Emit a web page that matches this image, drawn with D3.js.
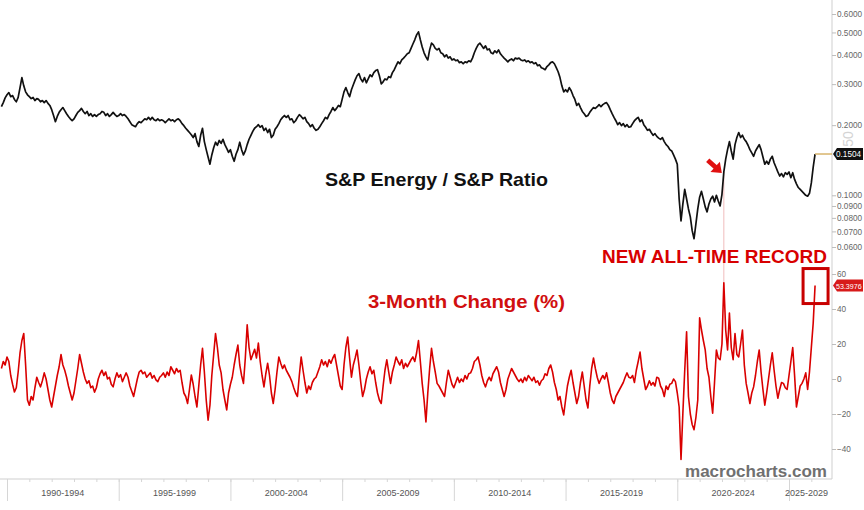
<!DOCTYPE html>
<html>
<head>
<meta charset="utf-8">
<script src="https://cdn.jsdelivr.net/npm/d3@7"></script>
<style>
  body { margin: 0; background: #fff; }
  svg { display: block; font-family: "Liberation Sans", Arial, sans-serif; }
</style>
</head>
<body>
<div id="chart"></div>
<script>
// Monthly readings, first point is Oct 1989
var firstMonth = 1989 + 9 / 12;

// S&P Energy / S&P ratio (log scale panel)
var ratio = [
  0.240, 0.250, 0.262,
  0.270, 0.276, 0.265, 0.268, 0.258, 0.252, 0.263, 0.290, 0.320, 0.295, 0.278, 0.270,
  0.265, 0.260, 0.263, 0.255, 0.260, 0.258, 0.252, 0.255, 0.250, 0.255, 0.248, 0.243,
  0.233, 0.220, 0.207, 0.218, 0.227, 0.233, 0.238, 0.231, 0.224, 0.218, 0.213, 0.209,
  0.213, 0.220, 0.227, 0.231, 0.236, 0.229, 0.224, 0.229, 0.220, 0.224, 0.218, 0.222,
  0.218, 0.222, 0.224, 0.229, 0.227, 0.220, 0.224, 0.218, 0.222, 0.227, 0.222, 0.218,
  0.220, 0.224, 0.220, 0.222, 0.218, 0.213, 0.207, 0.201, 0.199, 0.197, 0.203, 0.207,
  0.205, 0.209, 0.213, 0.211, 0.216, 0.211, 0.216, 0.211, 0.209, 0.213, 0.209, 0.211,
  0.209, 0.205, 0.209, 0.213, 0.209, 0.211, 0.207, 0.211, 0.213, 0.209, 0.203, 0.199,
  0.194, 0.190, 0.186, 0.182, 0.177, 0.184, 0.170, 0.162, 0.181, 0.194, 0.170, 0.157,
  0.146, 0.136, 0.149, 0.160, 0.169, 0.164, 0.172, 0.167, 0.174, 0.165, 0.159, 0.153,
  0.157, 0.147, 0.140, 0.150, 0.157, 0.169, 0.157, 0.149, 0.155, 0.165, 0.174, 0.181,
  0.188, 0.194, 0.197, 0.201, 0.196, 0.199, 0.190, 0.194, 0.186, 0.192, 0.177, 0.181,
  0.192, 0.197, 0.203, 0.211, 0.216, 0.220, 0.216, 0.220, 0.211, 0.213, 0.205, 0.209,
  0.216, 0.222, 0.218, 0.213, 0.216, 0.207, 0.203, 0.197, 0.201, 0.194, 0.190, 0.192,
  0.197, 0.203, 0.209, 0.216, 0.213, 0.222, 0.229, 0.238, 0.231, 0.236, 0.243, 0.240,
  0.258, 0.278, 0.290, 0.276, 0.265, 0.284, 0.298, 0.313, 0.326, 0.333, 0.316, 0.307,
  0.320, 0.304, 0.316, 0.329, 0.323, 0.336, 0.343, 0.346, 0.326, 0.301, 0.307, 0.316,
  0.313, 0.323, 0.320, 0.336, 0.346, 0.360, 0.374, 0.367, 0.381, 0.388, 0.396, 0.405,
  0.409, 0.427, 0.446, 0.465, 0.488, 0.503, 0.465, 0.433, 0.409, 0.393, 0.381, 0.421,
  0.450, 0.442, 0.427, 0.421, 0.427, 0.409, 0.405, 0.393, 0.401, 0.388, 0.393, 0.381,
  0.385, 0.378, 0.381, 0.371, 0.374, 0.367, 0.374, 0.371, 0.378, 0.374, 0.388, 0.409,
  0.427, 0.442, 0.450, 0.438, 0.427, 0.438, 0.421, 0.425, 0.409, 0.405, 0.417, 0.409,
  0.421, 0.405, 0.396, 0.388, 0.381, 0.374, 0.381, 0.385, 0.378, 0.388, 0.385, 0.388,
  0.381, 0.378, 0.381, 0.374, 0.378, 0.371, 0.374, 0.367, 0.371, 0.360, 0.363, 0.353,
  0.350, 0.346, 0.357, 0.363, 0.371, 0.374, 0.367, 0.353, 0.339, 0.320, 0.295, 0.278,
  0.284, 0.278, 0.290, 0.281, 0.268, 0.258, 0.243, 0.248, 0.238, 0.229, 0.224, 0.218,
  0.220, 0.227, 0.233, 0.238, 0.236, 0.240, 0.245, 0.240, 0.245, 0.248, 0.250, 0.243,
  0.233, 0.224, 0.216, 0.209, 0.201, 0.205, 0.199, 0.203, 0.197, 0.201, 0.196, 0.197,
  0.203, 0.209, 0.213, 0.216, 0.207, 0.211, 0.201, 0.196, 0.190, 0.192, 0.186, 0.181,
  0.184, 0.179, 0.176, 0.174, 0.177, 0.170, 0.165, 0.162, 0.157, 0.155, 0.149, 0.143,
  0.136, 0.0964, 0.0777, 0.0918, 0.106, 0.0964, 0.0874, 0.0808, 0.0705, 0.0651, 0.0754, 0.0874,
  0.0982, 0.104, 0.0964, 0.0892, 0.0849, 0.0918, 0.0964, 0.0992, 0.0936, 0.100, 0.0945, 0.0900,
  0.101, 0.126, 0.143, 0.157, 0.170, 0.155, 0.143, 0.165, 0.177, 0.186, 0.177, 0.181,
  0.174, 0.170, 0.164, 0.157, 0.152, 0.147, 0.155, 0.160, 0.165, 0.157, 0.146, 0.136,
  0.140, 0.136, 0.143, 0.147, 0.138, 0.132, 0.126, 0.121, 0.124, 0.120, 0.125, 0.123,
  0.126, 0.119, 0.125, 0.117, 0.112, 0.108, 0.106, 0.104, 0.102, 0.100, 0.0991, 0.102,
  0.113, 0.132, 0.1504
];

// 3-month change of the ratio, in percent
var change3m = [
  6, 10, 8,
  12.6, 10, 2, -3, -7.4, -5, 4, 15, 22, 26, 8, -12,
  -15, -10, -12, -5, 1, -2, -4.5, -1, 3.5, 0, -6, -12,
  -16, -10, -4, 2, 7, 14, 8, 5, 1, -4, -8, -12,
  -8, -1, 6, 14, 9, 4, 0, -2.5, -1, -5, -4, -7.5,
  -5, 0, 3, 5, 2, 4, 0, 1, -3, -4.5, 0, 3.5,
  1, 2.5, -1.5, 1, 3.5, 1, -4, -7, -10, -5, 0, 4,
  5, 3, 4, 1, 2.3, 3.5, 0.5, 2, -0.5, -1.5, 1, 2,
  3.5, 1, 4, 2, 7, 5, 3, 6, 4, 5, -2, -8,
  -10, -14, -6, 2.3, -3, -10, -16, -4, 8, 17.5, 4, -12,
  -23.5, -15, 2, 14, 26, 18, 8, 3.5, -6, -12, -17.7, -8,
  -3, 1, 8, 14, 19.4, 8, 2, -2.5, 12, 31, 18, 11,
  14, 17, 12, 20.5, 10, 2, -4.5, 3, 9, 2, -8, -14,
  -6, 4, 12.6, 9, 6, 8, 5, 3, 1, -1.5, -5, -8,
  -10, 2, 12.6, 5, -2, -8, -4, -6, -2, 0, 1, 4,
  7, 11, 8, 10, 7, 11, 9, 12, 14, 8, 2, -4,
  -6, 8, 18, 24, 12, 1, 8, 12, 16.6, 8, -2, -10,
  -6, 0, 4, 7, 3, 5, -2, -8, -12, -14, -4, 5,
  11, 4, -2.5, 4, 8, 12.6, 10, 8, 11, 6, 9, 7,
  9, 11, 12.6, 10, 15, 22, 10, -2.5, -12, -24.5, -8, 6,
  17.5, 10, 4, -2.5, -4, -6, -8, -10, -2, 5, 1, -3,
  -5, -2, 1, -2, 0, -1.5, 2, 0, 3, 3.5, 6, 10,
  11, 12.6, 8, 2, -2, -4.5, -1, 1, -1, 3, 5, 7,
  4, -2, -6, -10, -6, 0, 3, 6, 4, 2, 0, -1.5,
  0, -2, 1, -1, 2, 0.5, -1, 1, -2, -1, -3.5, -1,
  0, 3, 2, 6, 8, 4, -2, -6, -12, -10, -16, -20.5,
  -12, -4, 1, 5, -2, -8, -14, -10, -2, 4, -4, -12,
  -16.6, -4, 6, 12, 6, 1, -2.5, 0, 2, 0, 3.5, -2,
  -8, -12, -14, -10, -8, -6, -4, -2, 1, 3.5, 1, 0.5,
  2, -2, 5, 10, 15.4, 6, 0, -6, -4, -1, -3.5, -2,
  -4, 1, 0.5, -4, -6, -10, -4, -6, -3, -2.5, 0, -1.5,
  -8, -16, -46, -19.5, 5, 27, -10, -20, -26, -29, -22, -12,
  35, 28, 22, 16.6, 6, 1, -10, -19.5, -2, 16.6, 12, 11,
  20, 55, 28, 16.6, 37.7, 18, 11, 26, 14, 12.6, 20, 28,
  8, -2.5, -8, -14, -8, -4.5, 2, 10, 16.6, 4, -6, -15,
  -8, 0, 8, 15, 5, -4, -11, -6, -2, -2.5, -5, -6,
  2, 10, 18, 2, -16, -10, -4, -2.5, 0, 3.5, -6, 4,
  18, 32, 53.3976
];

var periodStarts = [1990, 1995, 2000, 2005, 2010, 2015, 2020, 2025];
var periodLabels = ["1990-1994", "1995-1999", "2000-2004", "2005-2009",
  "2010-2014", "2015-2019", "2020-2024", "2025-2029"];
var ratioTicks = [0.06, 0.07, 0.08, 0.09, 0.1, 0.2, 0.3, 0.4, 0.5, 0.6];
var changeTicks = [-40, -20, 0, 20, 40, 60];
var recordMonth = 388; // Feb 2022 spike marked by the arrow / crosshair

//Establishing SVG size and the two axis lines
var svgWidth = 864;
var svgHeight = 510;
var axisRightX = 832;
var axisBottomY = 479;

var dates = ratio.map(function(d, i) { return firstMonth + i / 12; });

var svg = d3.select("#chart").append("svg")
  .attr("width", svgWidth)
  .attr("height", svgHeight);

// Scales
var x = d3.scaleLinear().domain([1990, 2025]).range([7, 789]);
var yTop = d3.scaleLog().domain([0.06, 0.6]).range([247, 14]);
var yBot = d3.scaleLinear().domain([-40, 60]).range([449, 274]);

// Bottom time axis: yearly minor ticks, 5-year separators, centred period labels
svg.append("line")
  .attr("x1", 0).attr("x2", axisRightX)
  .attr("y1", axisBottomY).attr("y2", axisBottomY)
  .attr("stroke", "#cfcfcf");

var minorAxis = svg.append("g")
  .attr("transform", `translate(0, ${axisBottomY})`)
  .call(d3.axisBottom(x).tickValues(d3.range(1990, 2027)).tickSize(3).tickFormat(""));
var majorAxis = svg.append("g")
  .attr("transform", `translate(0, ${axisBottomY})`)
  .call(d3.axisBottom(x).tickValues(periodStarts).tickSize(22).tickFormat(""));
[minorAxis, majorAxis].forEach(function(g) {
  g.select(".domain").remove();
  g.selectAll("line").attr("stroke", "#d6d6d6");
});

svg.append("g").selectAll("text")
  .data(periodStarts)
  .enter()
  .append("text")
  .attr("x", function(d) { return (x(d) + Math.min(x(d + 5), axisRightX)) / 2 - (d === 2025 ? 4 : 0); })
  .attr("y", 496)
  .attr("text-anchor", "middle")
  .attr("font-size", 9)
  .attr("fill", "#555")
  .text(function(d, i) { return periodLabels[i]; });

// Right axis line
svg.append("line")
  .attr("x1", axisRightX).attr("x2", axisRightX)
  .attr("y1", 0).attr("y2", axisBottomY)
  .attr("stroke", "#cfcfcf");

var ratioAxis = svg.append("g")
  .attr("transform", `translate(${axisRightX}, 0)`)
  .call(d3.axisRight(yTop).tickValues(ratioTicks).tickFormat(d3.format(".4f")).tickSize(4));
var changeAxis = svg.append("g")
  .attr("transform", `translate(${axisRightX}, 0)`)
  .call(d3.axisRight(yBot).tickValues(changeTicks).tickFormat(d3.format("d")).tickSize(4));
[ratioAxis, changeAxis].forEach(function(g) {
  g.select(".domain").remove();
  g.selectAll("line").attr("stroke", "#bdbdbd");
  g.selectAll("text")
    .attr("font-family", "Liberation Sans, Arial, sans-serif")
    .attr("font-size", 8.2)
    .attr("fill", "#666")
    .attr("x", 5);
});

// faint rotated mark next to the right axis
svg.append("text")
  .attr("transform", "translate(853, 139) rotate(-90)")
  .attr("text-anchor", "middle")
  .attr("font-size", 14)
  .attr("fill", "#d4d4d4")
  .text("50");

// crosshair connecting the two panels at the record month
svg.append("line")
  .attr("x1", x(dates[recordMonth])).attr("x2", x(dates[recordMonth]))
  .attr("y1", yTop(ratio[recordMonth]))
  .attr("y2", yBot(change3m[recordMonth]) + 4)
  .attr("stroke", "#f0bcbc")
  .attr("stroke-width", 1);

// Ratio line
var ratioLine = d3.line()
  .x(function(d, i) { return x(dates[i]); })
  .y(function(d) { return yTop(d); });

svg.append("path")
  .datum(ratio)
  .attr("d", ratioLine)
  .attr("fill", "none")
  .attr("stroke", "#111")
  .attr("stroke-width", 1.7)
  .attr("stroke-linejoin", "round");

// 3-month change line
var changeLine = d3.line()
  .x(function(d, i) { return x(dates[i]); })
  .y(function(d) { return yBot(d); });

svg.append("path")
  .datum(change3m)
  .attr("d", changeLine)
  .attr("fill", "none")
  .attr("stroke", "#d90000")
  .attr("stroke-width", 1.6)
  .attr("stroke-linejoin", "round");

var last = ratio.length - 1;
var lastX = x(dates[last]);
var lastRatioY = yTop(ratio[last]);
var lastChangeY = yBot(change3m[last]);

// gold leader to the last-value tag
svg.append("line")
  .attr("x1", lastX).attr("x2", axisRightX)
  .attr("y1", lastRatioY).attr("y2", lastRatioY)
  .attr("stroke", "#d8b46c")
  .attr("stroke-width", 1.5);

// last-value tags on the right axis
function valueTag(yPos, fill, label) {
  var h = 6;
  svg.append("path")
    .attr("d", `M${axisRightX + 1},${yPos} L${axisRightX + 5},${yPos - h} L${svgWidth - 1},${yPos - h} L${svgWidth - 1},${yPos + h} L${axisRightX + 5},${yPos + h} Z`)
    .attr("fill", fill);
  svg.append("text")
    .attr("x", axisRightX + 4)
    .attr("y", yPos + 3)
    .attr("font-size", label.length > 6 ? 7.1 : 8.2)
    .attr("fill", "#fff")
    .text(label);
}
valueTag(lastRatioY, "#111", d3.format(".4f")(ratio[last]));
valueTag(lastChangeY, "#d71a1a", d3.format(".4f")(change3m[last]));

// red box round the last 3-month change
svg.append("rect")
  .attr("x", lastX - 12)
  .attr("y", lastChangeY - 17)
  .attr("width", 25)
  .attr("height", 35)
  .attr("fill", "none")
  .attr("stroke", "#c80000")
  .attr("stroke-width", 3);

// red arrow pointing at the record month on the ratio line
var tipX = x(dates[recordMonth]) - 2;
var tipY = yTop(ratio[recordMonth]) + 1;
var arrow = svg.append("g")
  .attr("transform", `translate(${tipX}, ${tipY}) rotate(42)`);
arrow.append("path")
  .attr("d", "M0,0 L-9,-7 L-9,7 Z")
  .attr("fill", "#e01010");
arrow.append("rect")
  .attr("x", -19).attr("y", -2.4)
  .attr("width", 11).attr("height", 4.8)
  .attr("fill", "#e01010");

// Annotation texts
svg.append("text")
  .attr("x", 325).attr("y", 186)
  .attr("font-size", 19).attr("font-weight", "bold")
  .attr("textLength", 223).attr("lengthAdjust", "spacingAndGlyphs")
  .attr("fill", "#111")
  .text("S&P Energy / S&P Ratio");

svg.append("text")
  .attr("x", 368).attr("y", 308)
  .attr("font-size", 18).attr("font-weight", "bold")
  .attr("textLength", 197).attr("lengthAdjust", "spacingAndGlyphs")
  .attr("fill", "#d10f0f")
  .text("3-Month Change (%)");

svg.append("text")
  .attr("x", 602).attr("y", 263)
  .attr("font-size", 18).attr("font-weight", "bold")
  .attr("textLength", 225).attr("lengthAdjust", "spacingAndGlyphs")
  .attr("fill", "#d80000")
  .text("NEW ALL-TIME RECORD");

svg.append("text")
  .attr("x", 685).attr("y", 477)
  .attr("font-size", 17).attr("font-weight", "bold")
  .attr("textLength", 142).attr("lengthAdjust", "spacingAndGlyphs")
  .attr("fill", "#707070")
  .text("macrocharts.com");
</script>
</body>
</html>
